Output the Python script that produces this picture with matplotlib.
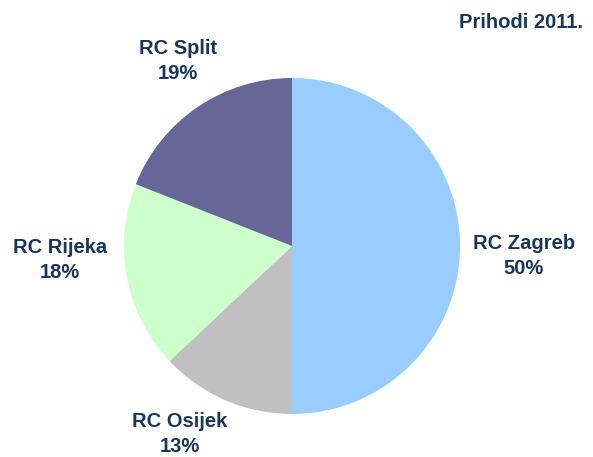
import matplotlib
matplotlib.use("Agg")
import matplotlib.pyplot as plt

categories = ["RC Zagreb", "RC Osijek", "RC Rijeka", "RC Split"]
values = [50, 13, 18, 19]
colors = ["#99CCFF", "#C0C0C0", "#CCFFCC", "#666699"]
title = "Prihodi 2011."

W, H = 593, 457
fig = plt.figure(figsize=(W / 100, H / 100), dpi=100)
ax = fig.add_axes([0, 0, 1, 1])

cx, cy, r = 292, H - 246, 168
ax.pie(values, colors=colors, startangle=90, counterclock=False,
       center=(cx, cy), radius=r, frame=True,
       wedgeprops=dict(linewidth=0))
ax.set_xlim(0, W)
ax.set_ylim(0, H)
ax.set_aspect("equal")
ax.axis("off")

txt_color = "#17365D"
font = dict(family=["Liberation Sans", "DejaVu Sans"], fontsize=14.5,
            fontweight="bold", color=txt_color, ha="center", va="center",
            linespacing=1.4)
label_pos = [(524, 256), (180, 434), (60, 260), (178, 61)]
for name, v, (x, y) in zip(categories, values, label_pos):
    ax.text(x, H - y, f"{name}\n{v}%", **font)

ax.text(583, H - 22, title, family=["Liberation Sans", "DejaVu Sans"],
        fontsize=14.5, fontweight="bold", color=txt_color, ha="right", va="center")

fig.savefig("out.png", dpi=100)
